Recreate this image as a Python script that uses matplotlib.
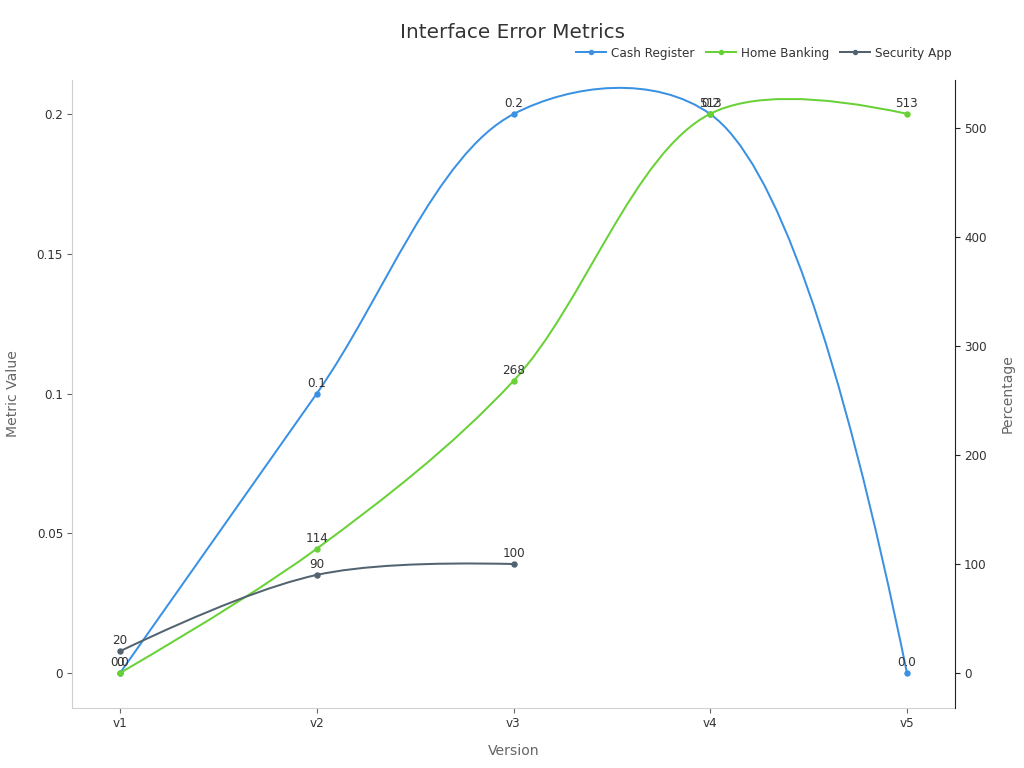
import numpy as np
import matplotlib
matplotlib.use("Agg")
import matplotlib.pyplot as plt
from matplotlib.path import Path
from matplotlib.patches import PathPatch
from matplotlib.lines import Line2D

# data
versions = ["v1", "v2", "v3", "v4", "v5"]
cash_register = [0.0, 0.1, 0.2, 0.2, 0.0]
home_banking = [0, 114, 268, 513, 513]
security_app = [20, 90, 100]

c_cash = "#3a91e3"
c_home = "#68d135"
c_sec = "#52626f"
txt = "#333333"
grey = "#666666"
PX = 72 / 100  # one pixel in points at dpi 100


def tangent(p0, p1, p2, smooth=1.0):
    # catmull-rom style tangent (centripetal), like a "spline" line shape
    d1 = p0 - p1
    d2 = p2 - p1
    d1a = np.hypot(*d1) ** 0.5
    d2a = np.hypot(*d2) ** 0.5
    num = (d2a ** 2 * d1 - d1a ** 2 * d2) * smooth
    den1 = 3 * d2a * (d1a + d2a)
    den2 = 3 * d1a * (d1a + d2a)
    return p1 + num / den1, p1 - num / den2


def spline_line(ax, xs, ys, color):
    pts = ax.transData.transform(np.column_stack([xs, ys]))
    n = len(pts)
    tans = [tangent(pts[i - 1], pts[i], pts[i + 1]) for i in range(1, n - 1)]
    verts = [pts[0], tans[0][0], pts[1]]
    codes = [Path.MOVETO, Path.CURVE3, Path.CURVE3]
    for i in range(2, n - 1):
        verts += [tans[i - 2][1], tans[i - 1][0], pts[i]]
        codes += [Path.CURVE4] * 3
    verts += [tans[-1][1], pts[-1]]
    codes += [Path.CURVE3] * 2
    verts = ax.transData.inverted().transform(np.array(verts))
    ax.add_patch(PathPatch(Path(verts, codes), fill=False, edgecolor=color,
                           lw=2 * PX, transform=ax.transData, zorder=3))
    ax.plot(xs, ys, "o", color=color, ms=5 * PX, zorder=4)


def labels(ax, xs, ys, fmt):
    for x, y in zip(xs, ys):
        ax.annotate(fmt(y), (x, y), textcoords="offset points", xytext=(0, 7 * PX),
                    ha="center", va="baseline", fontsize=12 * PX, color=txt, zorder=5)


fig = plt.figure(figsize=(10.24, 7.68), dpi=100)
ax = fig.add_axes([72 / 1024, 1 - 708 / 768, (955 - 72) / 1024, (708 - 80) / 768])
ax2 = ax.twinx()

x = np.arange(len(versions))
ax.set_xlim(-0.244, 4.244)
ax.set_ylim(-0.0125, 0.2122)
ax2.set_ylim(-32.1, 544)

spline_line(ax, x, cash_register, c_cash)
spline_line(ax2, x[:len(home_banking)], home_banking, c_home)
spline_line(ax2, x[:len(security_app)], security_app, c_sec)

labels(ax, x, cash_register, lambda v: f"{v:.1f}")
labels(ax2, x, home_banking, lambda v: f"{v:d}")
labels(ax2, x[:len(security_app)], security_app, lambda v: f"{v:d}")

ax.set_xticks(x)
ax.set_xticklabels(versions)
ax.set_yticks([0, 0.05, 0.1, 0.15, 0.2])
ax.set_yticklabels(["0", "0.05", "0.1", "0.15", "0.2"])
ax2.set_yticks([0, 100, 200, 300, 400, 500])

for a in (ax, ax2):
    a.spines["top"].set_visible(False)
ax.spines["right"].set_visible(False)
ax.spines["left"].set_color("#d0d0d0")
ax.spines["bottom"].set_color("#d0d0d0")
ax2.spines["left"].set_visible(False)
ax2.spines["bottom"].set_visible(False)
ax2.spines["right"].set_color("#222222")

ax.tick_params(axis="both", labelsize=12 * PX, labelcolor=txt, color=grey,
               length=5 * PX, pad=4 * PX)
ax2.tick_params(axis="y", labelsize=12 * PX, labelcolor=txt, color="#222222",
                length=5 * PX, pad=4 * PX)

fig.text(514 / 1024, 1 - 751 / 768, "Version", ha="center", va="center",
         fontsize=14 * PX, color=grey)
fig.text(13 / 1024, 1 - 394 / 768, "Metric Value", ha="center", va="center",
         rotation=90, fontsize=14 * PX, color=grey)
fig.text(1008 / 1024, 1 - 394 / 768, "Percentage", ha="center", va="center",
         rotation=90, fontsize=14 * PX, color=grey)

fig.text(512 / 1024, 1 - 33 / 768, "Interface Error Metrics", ha="center", va="center",
         fontsize=20 * PX, color=txt)

handles = [Line2D([], [], color=c, lw=2 * PX, marker="o", ms=4 * PX)
           for c in (c_cash, c_home, c_sec)]
fig.legend(handles, ["Cash Register", "Home Banking", "Security App"], ncol=3,
           loc="center right", bbox_to_anchor=(952 / 1024, 1 - 53 / 768), frameon=False,
           fontsize=12 * PX, handlelength=2.5, columnspacing=0.9, handletextpad=0.45,
           labelcolor=txt, borderaxespad=0, borderpad=0)

fig.savefig("out.png", dpi=100)
